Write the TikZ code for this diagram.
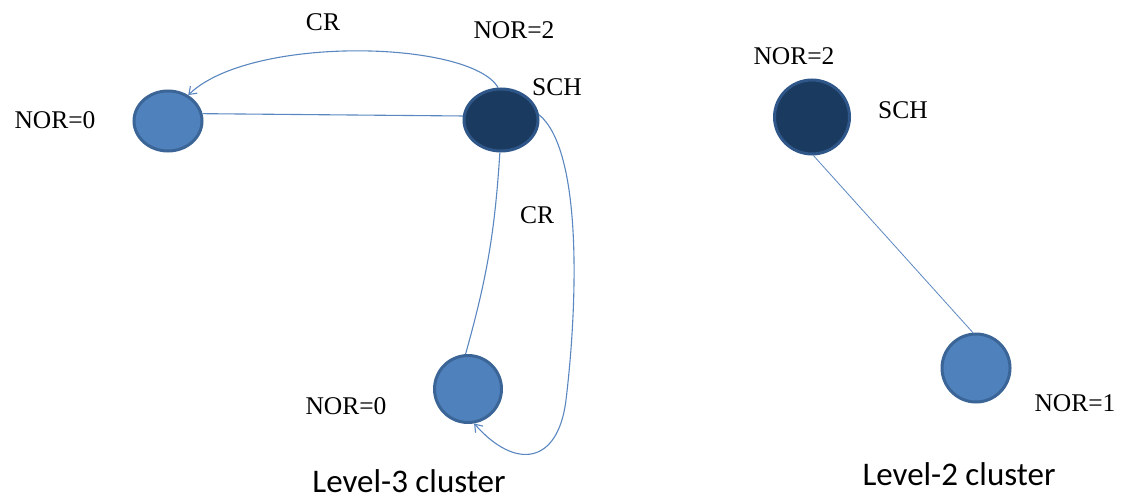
\documentclass[tikz,border=0pt]{standalone}
\usepackage{fontspec}
\setmainfont{Liberation Serif}
\newfontfamily\calib{Carlito}
\usetikzlibrary{arrows.meta,shapes.geometric}
\definecolor{lightfill}{HTML}{4F81BD}
\definecolor{lightrim}{HTML}{3A6596}
\definecolor{darkfill}{HTML}{1B3A60}
\definecolor{darkrim}{HTML}{2F5688}
\definecolor{linkcol}{HTML}{5B87C0}
\tikzset{
  member/.style={ellipse, fill=lightfill, draw=lightrim, line width=3pt, inner sep=0pt},
  head/.style={ellipse, fill=darkfill, draw=darkrim, line width=3pt, inner sep=0pt},
  link/.style={draw=linkcol, line width=1.1pt},
  req/.style={link, -{Straight Barb[length=7pt,width=10pt,line width=1.1pt]}},
  lbl/.style={font=\fontsize{25.5}{28}\selectfont, inner sep=0pt},
  clustertitle/.style={font=\calib\fontsize{33}{36}\selectfont, inner sep=0pt}
}
\begin{document}
\begin{tikzpicture}[x=1pt,y=-1pt]
\useasboundingbox (0,0) rectangle (1123,500);

% level-3 cluster
\node[member, minimum width=68pt, minimum height=60pt] (a) at (168,121) {};
\node[head, minimum width=74pt, minimum height=62pt] (s1) at (501,120) {};
\node[member, minimum width=67pt, minimum height=67pt] (b) at (468,389) {};

\draw[link] (a.12) -- (s1.174);
\draw[link] (s1.-92) to[bend left=6] (b.94);
\draw[req] (s1.95) .. controls (470,40) and (250,35) .. (a.52);
\draw[req] (s1.8) .. controls (582,150) and (578,300) .. (566,400)
  .. controls (558,465) and (515,470) .. (b.-80);

\node[lbl] (cr1) at (323,22) {CR};
\node[lbl] (nor2a) at (514,30) {NOR=2};
\node[lbl] (sch1) at (557,87) {SCH};
\node[lbl] (nor0a) at (55,120) {NOR=0};
\node[lbl] (cr2) at (537,215) {CR};
\node[lbl] (nor0b) at (346,406) {NOR=0};
\node[clustertitle] (lv3) at (409,481) {Level-3 cluster};

% level-2 cluster
\node[head, minimum width=75pt, minimum height=74pt] (s2) at (812,117) {};
\node[member, minimum width=68pt, minimum height=68pt] (c) at (976,368) {};
\draw[link, line width=0.8pt] (s2.-88) -- (c.95);

\node[lbl] (nor2b) at (794,56) {NOR=2};
\node[lbl] (sch2) at (903,110) {SCH};
\node[lbl] (nor1) at (1075,403) {NOR=1};
\node[clustertitle] (lv2) at (959,474) {Level-2 cluster};
\end{tikzpicture}
\end{document}
